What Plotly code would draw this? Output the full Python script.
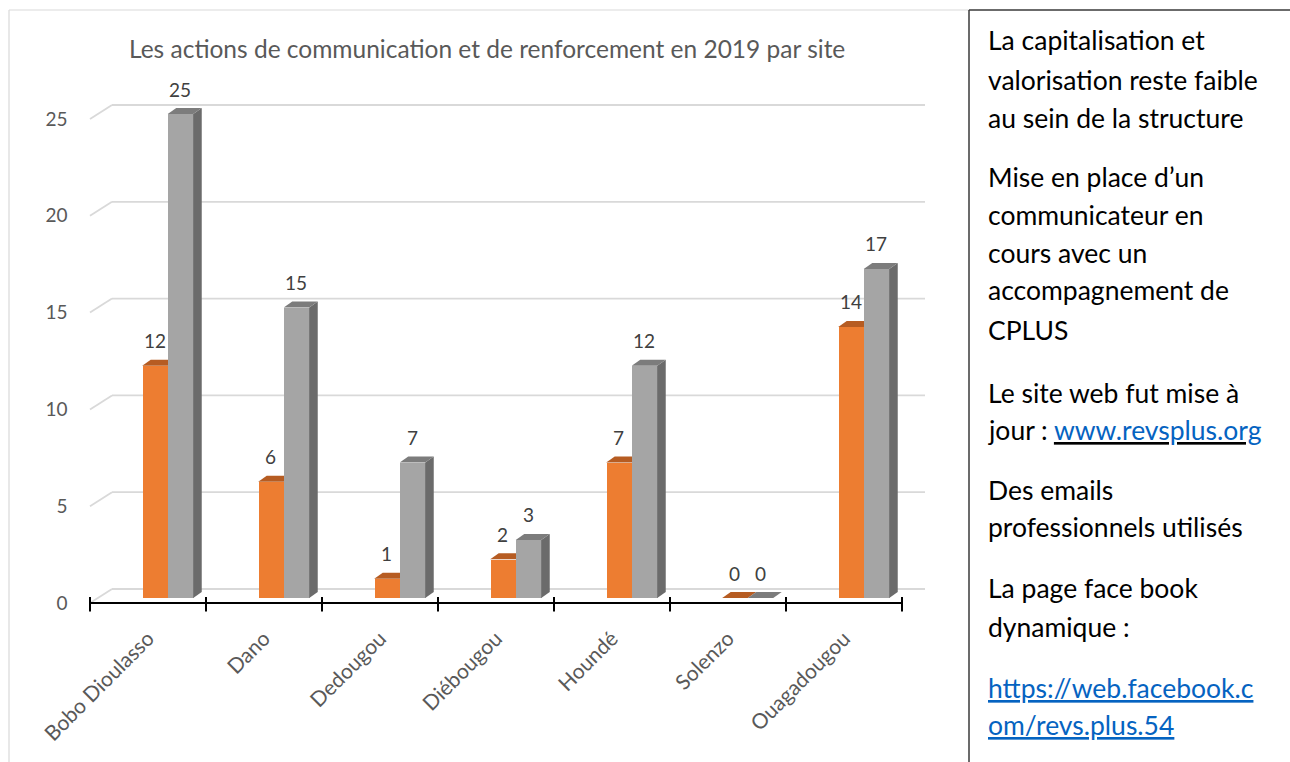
import plotly.graph_objects as go

# ---------------- data ----------------
sites = ["Bobo Dioulasso", "Dano", "Dedougou", "Diébougou", "Houndé", "Solenzo", "Ouagadougou"]
serie_orange = [12, 6, 1, 2, 7, 0, 14]
serie_gris = [25, 15, 7, 3, 12, 0, 17]
y_ticks = [0, 5, 10, 15, 20, 25]
title_text = "Les actions de communication et de renforcement en 2019 par site"

box_lines = [
    "La capitalisation et",
    "valorisation reste faible",
    "au sein de la structure",
    "Mise en place d\u2019un",
    "communicateur en",
    "cours avec un",
    "accompagnement de",
    "CPLUS",
    "Le site web fut mise à",
    "jour : <u><span style='color:#0563C1'>www.revsplus.org</span></u>",
    "Des emails",
    "professionnels utilisés",
    "La page face book",
    "dynamique :",
    "<u>https://web.facebook.c</u>",
    "<u>om/revs.plus.54</u>",
]
box_line_colors = ["#000000"] * 14 + ["#0563C1", "#0563C1"]
box_line_y_px = [40, 80, 118, 177, 215, 253, 290, 330, 393, 430, 490, 527, 588, 627, 688, 725]

# ---------------- geometry (pixel layout) ----------------
W, H = 1290, 762
X0PX, XPU = 90.0, 116.0     # pixel of category boundary -0.5, pixels per category
Y0PX, YPU = 598.0, 19.36    # pixel of value 0 (bar base), pixels per unit
xmin, xmax = -0.65, 6.85
ymin, ymax = -1.2, 27.5


def xpx(x):
    return X0PX + (x + 0.5) * XPU


def ypx(y):
    return Y0PX - y * YPU


x_dom = [xpx(xmin) / W, xpx(xmax) / W]
y_dom = [1 - ypx(ymin) / H, 1 - ypx(ymax) / H]

FRONT = -5.0 / YPU        # front plane offset (value units)
BACK = 9.0 / YPU          # back wall offset
BACK_DX = 22.0 / XPU      # back wall horizontal shift
GRID_RIGHT = (925 - X0PX) / XPU - 0.5
DX = 8.5 / XPU            # bar depth (x)
DY = 6.0 / YPU            # bar depth (y)
BW = 0.22
OFF_O, OFF_G = 0.06, 0.28

ORANGE, ORANGE_TOP = "#ED7D31", "#B65C22"
GRAY, GRAY_TOP, GRAY_SIDE = "#A5A5A5", "#7C7C7C", "#6B6B6B"

n = len(sites)
xo = [i + OFF_O for i in range(n)]
xg = [i + OFF_G for i in range(n)]

fig = go.Figure()
fig.add_trace(go.Bar(x=xo, y=serie_orange, width=BW, marker=dict(color=ORANGE, line=dict(width=0)),
                     hoverinfo="skip", showlegend=False))
fig.add_trace(go.Bar(x=xg, y=serie_gris, width=BW, marker=dict(color=GRAY, line=dict(width=0)),
                     hoverinfo="skip", showlegend=False))

shapes = []
# back wall gridlines with the diagonal floor/side segment
for v in y_ticks:
    shapes.append(dict(type="line", xref="x", yref="y", x0=-0.5 + BACK_DX, x1=GRID_RIGHT,
                       y0=v + BACK, y1=v + BACK, line=dict(color="#D9D9D9", width=1.8), layer="below"))
    shapes.append(dict(type="line", xref="x", yref="y", x0=-0.5, x1=-0.5 + BACK_DX,
                       y0=v + FRONT, y1=v + BACK, line=dict(color="#D9D9D9", width=1.8), layer="below"))


def para(pts):
    return "M " + " L ".join(f"{a},{b}" for a, b in pts) + " Z"


# orange top faces (behind the grey bars)
for x, v in zip(xo, serie_orange):
    l, r = x - BW / 2, x + BW / 2
    shapes.append(dict(type="path", xref="x", yref="y", layer="below",
                       path=para([(l, v), (r, v), (r + DX, v + DY), (l + DX, v + DY)]),
                       fillcolor=ORANGE_TOP, line=dict(width=0)))
# grey top and side faces
for x, v in zip(xg, serie_gris):
    l, r = x - BW / 2, x + BW / 2
    if v > 0:
        shapes.append(dict(type="path", xref="x", yref="y", layer="above",
                           path=para([(r, 0), (r, v), (r + DX, v + DY), (r + DX, DY)]),
                           fillcolor=GRAY_SIDE, line=dict(width=0)))
    shapes.append(dict(type="path", xref="x", yref="y", layer="above",
                       path=para([(l, v), (r, v), (r + DX, v + DY), (l + DX, v + DY)]),
                       fillcolor=GRAY_TOP, line=dict(width=0)))

# front axis line and tick marks
shapes.append(dict(type="line", xref="x", yref="y", x0=-0.5, x1=n - 0.5, y0=FRONT, y1=FRONT,
                   line=dict(color="#000000", width=2.2), layer="above"))
for k in range(n + 1):
    shapes.append(dict(type="line", xref="x", yref="y", x0=k - 0.5, x1=k - 0.5,
                       y0=FRONT + 6.0 / YPU, y1=FRONT - 8.5 / YPU,
                       line=dict(color="#000000", width=2), layer="above"))


# chart frame (light grey) and text box frame (dark)
def px_x(p):
    return p / W


def px_y(p):
    return 1 - p / H


shapes.append(dict(type="line", xref="paper", yref="paper", x0=px_x(9), x1=px_x(9), y0=px_y(10), y1=px_y(H + 5),
                   line=dict(color="#D9D9D9", width=1.2)))
shapes.append(dict(type="line", xref="paper", yref="paper", x0=px_x(9), x1=px_x(969), y0=px_y(10), y1=px_y(10),
                   line=dict(color="#D9D9D9", width=1.2)))
shapes.append(dict(type="line", xref="paper", yref="paper", x0=px_x(969), x1=px_x(969), y0=px_y(10), y1=px_y(H + 5),
                   line=dict(color="#3A3A3A", width=1.5)))
shapes.append(dict(type="line", xref="paper", yref="paper", x0=px_x(969), x1=px_x(W + 5), y0=px_y(10), y1=px_y(10),
                   line=dict(color="#3A3A3A", width=1.5)))

annotations = []
# data labels
for xs, vals in ((xo, serie_orange), (xg, serie_gris)):
    for x, v in zip(xs, vals):
        annotations.append(dict(x=x, y=v, xref="x", yref="y", text=str(v), showarrow=False,
                                yshift=25, xanchor="center", yanchor="middle",
                                font=dict(family="Lato", size=19, color="#404040")))
# title
annotations.append(dict(x=px_x(487), y=px_y(48), xref="paper", yref="paper", text=title_text,
                        showarrow=False, xanchor="center", yanchor="middle",
                        font=dict(family="Lato", size=24.5, color="#595959")))
# text box content
for t, c, yy in zip(box_lines, box_line_colors, box_line_y_px):
    annotations.append(dict(x=px_x(986), y=px_y(yy), xref="paper", yref="paper", text=t,
                            showarrow=False, xanchor="left", yanchor="middle",
                            font=dict(family="Lato", size=26.5, color=c)))

fig.update_layout(
    width=W, height=H, margin=dict(l=0, r=0, t=0, b=0, autoexpand=False),
    paper_bgcolor="white", plot_bgcolor="rgba(0,0,0,0)",
    barmode="overlay", bargap=0,
    shapes=shapes, annotations=annotations,
    xaxis=dict(domain=x_dom, range=[xmin, xmax], tickvals=list(range(n)), ticktext=sites,
               tickangle=-45, tickfont=dict(family="Lato", size=21, color="#595959"),
               showgrid=False, zeroline=False, showline=False, ticks="", automargin=False),
    yaxis=dict(domain=y_dom, range=[ymin, ymax], tickvals=[v + FRONT for v in y_ticks],
               ticktext=[str(v) for v in y_ticks],
               tickfont=dict(family="Lato", size=19, color="#595959"),
               showgrid=False, zeroline=False, showline=False, ticks="", ticklabelstandoff=4,
               automargin=False),
    font=dict(family="Lato"),
)

fig.write_html("out.html", config={"displayModeBar": False},
               post_script="document.body.style.margin='0px';document.body.style.overflow='hidden';")
